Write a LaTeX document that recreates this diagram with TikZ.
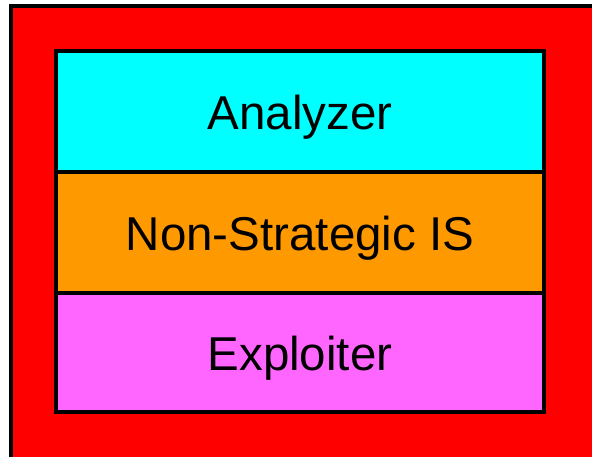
\documentclass[tikz,border=0pt]{standalone}
\usepackage{fontspec}
\setmainfont{Liberation Sans}
\definecolor{cyanbox}{RGB}{0,255,255}
\definecolor{orangebox}{RGB}{255,153,0}
\definecolor{magbox}{RGB}{255,102,255}
\definecolor{redbg}{RGB}{255,0,0}
\begin{document}
\begin{tikzpicture}[x=1pt,y=-1pt,
  layer/.style={draw=black,line width=3.2pt},
  label/.style={font=\fontsize{47.5}{50}\selectfont,text=black}]
\useasboundingbox (0,0) rectangle (592,457);
\begin{scope}
\clip (0,0) rectangle (592,457);
\draw[fill=redbg,draw=black,line width=3.2pt] (11,6) rectangle (610,480);
\end{scope}
\draw[layer,fill=cyanbox] (56,51) rectangle (544,172);
\draw[layer,fill=orangebox] (56,172) rectangle (544,293);
\draw[layer,fill=magbox] (56,293) rectangle (544,412);
\node[label] (analyzer) at (300,117) {Analyzer};
\node[label] (nsis) at (300,238) {Non-Strategic IS};
\node[label] (exploiter) at (300,358) {Exploiter};
\end{tikzpicture}
\end{document}
